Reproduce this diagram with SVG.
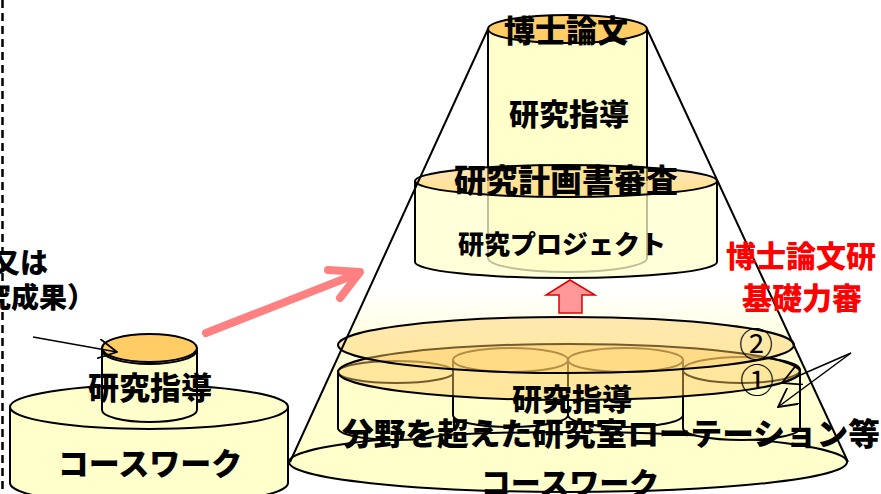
<svg xmlns="http://www.w3.org/2000/svg" width="881" height="494" viewBox="0 0 881 494">
<style>
.t{font-family:"Noto Sans CJK JP","Noto Sans CJK SC",sans-serif;font-weight:900;fill:#000}
.r{fill:#FF0000}
.c{font-family:"Noto Sans CJK JP",sans-serif;font-weight:400;font-size:34px;fill:#000}
.y{fill:#FFFFCC;stroke:#000;stroke-width:2}
.o{fill:#FFCC66;stroke:#000;stroke-width:2}
.ln{fill:none;stroke:#000;stroke-width:2}
.thin{fill:none;stroke:#000;stroke-width:1.5}
</style>
<defs>
<linearGradient id="cone" x1="0" y1="0" x2="0" y2="1" gradientUnits="objectBoundingBox">
<stop offset="0" stop-color="#FFFFFF"/>
<stop offset="0.6" stop-color="#FFFFFF"/>
<stop offset="0.75" stop-color="#FFFFD6"/>
<stop offset="1" stop-color="#FFFFCC"/>
</linearGradient>
<marker id="open2" viewBox="0 0 20 20" refX="19" refY="10" markerWidth="20" markerHeight="20" markerUnits="userSpaceOnUse" orient="auto">
<path d="M0,0 L19,10 L0,20" fill="none" stroke="#000" stroke-width="1.8"/>
</marker>
</defs>

<!-- dashed boundary -->
<line x1="2.5" y1="0" x2="2.5" y2="494" stroke="#000" stroke-width="2.5" stroke-dasharray="8,5"/>

<g id="left-text">
<text class="t" x="-8" y="273" font-size="28">又は</text>
<text class="t" x="-17" y="308" font-size="28">究成果）</text>
</g>

<g id="left-coursework">
<path class="y" d="M10,407 L10,483 A139,22 0 0 0 288,483 L288,407"/>
<ellipse class="y" cx="149" cy="407" rx="139" ry="22"/>
</g>

<g id="left-guidance">
<path class="y" d="M102,350 L102,410 A47.5,12 0 0 0 197,410 L197,350"/>
<ellipse class="o" cx="149.5" cy="350" rx="47.5" ry="14"/>
<ellipse class="o" cx="149.5" cy="348" rx="47.5" ry="14"/>
</g>

<text class="t" x="150" y="399" font-size="31" text-anchor="middle">研究指導</text>
<text class="t" x="150" y="475" font-size="31" text-anchor="middle">コースワーク</text>

<!-- cone fill -->
<polygon points="488,29 647,29 848,462 290,462" fill="url(#cone)"/>

<g id="bottom-coursework">
<ellipse class="y" cx="568" cy="462" rx="279" ry="30"/>
</g>

<g id="ring-cylinders">
<path class="y" d="M338,372 L338,428 A58,12 0 0 0 454,428 L454,372"/>
<ellipse class="y" cx="396" cy="372" rx="58" ry="11"/>
<path class="y" d="M683,370 L683,428 A58.5,12 0 0 0 800,428 L800,370"/>
<ellipse class="y" cx="741.5" cy="370" rx="58.5" ry="13"/>
<path class="y" d="M453,360 L453,415 A57.5,12 0 0 0 568,415 L568,360"/>
<ellipse class="y" cx="510.5" cy="360" rx="57.5" ry="12"/>
<path class="y" d="M568,360 L568,415 A57.5,12 0 0 0 683,415 L683,360"/>
<ellipse class="y" cx="625.5" cy="360" rx="57.5" ry="12"/>
</g>

<g id="disc-1">
<ellipse cx="569" cy="372" rx="231" ry="28" fill="#FFCC66" fill-opacity="0.45" stroke="#000" stroke-width="2"/>
</g>
<g id="disc-2">
<ellipse cx="566" cy="345" rx="228" ry="28" fill="#FFCC66" fill-opacity="0.45" stroke="#000" stroke-width="2"/>
</g>

<g id="top-cylinder">
<path class="y" d="M488,29 L488,258 A79.5,14 0 0 0 647,258 L647,29"/>
<ellipse class="o" cx="567.5" cy="29" rx="79.5" ry="14"/>
</g>

<g id="project-cylinder">
<path d="M415,181 L415,262 A151,16 0 0 0 717,262 L717,181" fill="#FFFFCC" fill-opacity="0.75" stroke="#000" stroke-width="2"/>
<ellipse cx="566" cy="181" rx="151" ry="16" fill="#FFCC66" fill-opacity="0.55" stroke="#000" stroke-width="2"/>
</g>

<g id="connectors">
<line class="ln" x1="488" y1="29" x2="290" y2="462"/>
<line class="ln" x1="647" y1="29" x2="848" y2="462"/>
<line class="thin" x1="33" y1="337" x2="117" y2="352" marker-end="url(#open2)"/>
<line class="thin" x1="851" y1="353" x2="782" y2="383" marker-end="url(#open2)"/>
<line class="thin" x1="851" y1="353" x2="778" y2="407" marker-end="url(#open2)"/>
<g stroke="#FF8080" stroke-width="8" stroke-linecap="round" stroke-linejoin="round" fill="none">
<line x1="206" y1="333" x2="359" y2="273"/>
<polyline points="328,270 360,272 340,298"/>
</g>
<polygon points="570,280 595,295 582,295 582,313 559,313 559,295 546,295" fill="#FF9999" stroke="#E00000" stroke-width="1.5"/>
</g>

<g id="labels">
<text class="t" x="566" y="42" font-size="31" text-anchor="middle">博士論文</text>
<text class="t" x="569" y="125" font-size="30" text-anchor="middle">研究指導</text>
<text class="t" x="566" y="192" font-size="32" text-anchor="middle">研究計画書審査</text>
<text class="t" x="562" y="254" font-size="26" text-anchor="middle">研究プロジェクト</text>
<text class="t" x="572" y="410" font-size="30" text-anchor="middle">研究指導</text>
<text class="t" x="342" y="445" font-size="31" textLength="538" lengthAdjust="spacingAndGlyphs">分野を超えた研究室ローテーション等</text>
<text class="t" x="570" y="494" font-size="30" text-anchor="middle">コースワーク</text>
<text class="c" x="756" y="357" text-anchor="middle">②</text>
<text class="c" x="757" y="393" text-anchor="middle">①</text>
<text class="t r" x="726" y="267" font-size="30">博士論文研</text>
<text class="t r" x="742" y="309" font-size="30">基礎力審</text>
</g>
</svg>
